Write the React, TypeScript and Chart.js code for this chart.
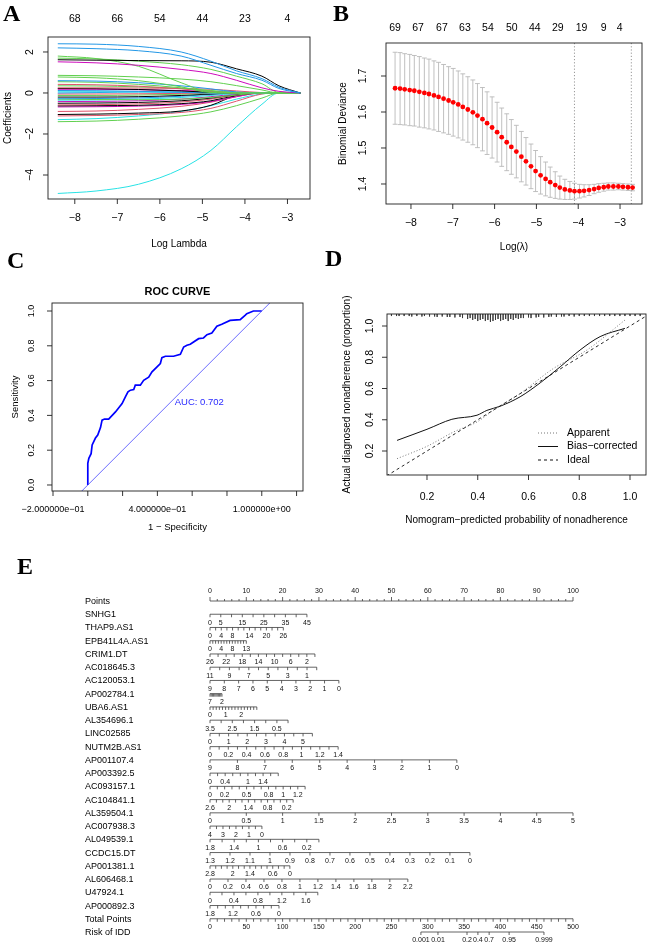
import React, { useEffect, useRef } from "react";
import { Chart, registerables } from "chart.js";
Chart.register(...registerables);

const SANS = '"Liberation Sans", Arial, Helvetica, sans-serif';
const SERIF = '"Liberation Serif", "Times New Roman", serif';
const AXIS = "#1e1e1e";

// ---------------- Panel A : LASSO coefficient paths ----------------
const lassoLogLambda = [-8.4, -7.5, -6.5, -5.5, -4.8, -4.2, -3.6, -3.2, -2.7];
const lassoColors = [
  "#2297E6", "#2297E6", "#000000", "#CD0BBC", "#61D04F", "#61D04F", "#61D04F", "#61D04F",
  "#2297E6", "#61D04F", "#DF536B", "#61D04F", "#DF536B", "#000000", "#CD0BBC", "#2297E6",
  "#28E2E5", "#2297E6", "#DF536B", "#61D04F", "#000000", "#2297E6", "#61D04F", "#28E2E5",
  "#CD0BBC", "#000000", "#DF536B", "#000000", "#CD0BBC", "#DF536B", "#000000", "#DF536B",
  "#28E2E5", "#61D04F", "#28E2E5",
];
const lassoPaths = [
  [2.4, 2.38, 2.27, 2.0, 1.55, 1.08, 0.7, 0.28, 0],
  [2.2, 2.16, 2.06, 1.8, 1.35, 0.95, 0.62, 0.22, 0],
  [1.62, 1.6, 1.58, 1.57, 1.5, 1.18, 0.82, 0.35, 0],
  [1.52, 1.47, 1.35, 1.15, 0.95, 0.62, 0.25, 0.08, 0],
  [1.8, 1.68, 1.3, 0.5, 0.04, 0, 0, 0, 0],
  [1.7, 1.66, 1.55, 1.38, 1.15, 0.82, 0.45, 0.02, 0],
  [0.86, 0.84, 0.78, 0.68, 0.55, 0.36, 0.15, 0, 0],
  [0.78, 0.74, 0.6, 0.3, 0.02, 0, 0, 0, 0],
  [0.6, 0.58, 0.5, 0.35, 0.2, 0.05, 0, 0, 0],
  [0.55, 0.52, 0.42, 0.25, 0.1, 0, 0, 0, 0],
  [0.42, 0.4, 0.33, 0.2, 0.08, 0, 0, 0, 0],
  [0.35, 0.34, 0.3, 0.22, 0.12, 0.03, 0, 0, 0],
  [0.25, 0.25, 0.24, 0.22, 0.18, 0.1, 0.02, 0, 0],
  [0.22, 0.21, 0.17, 0.1, 0.03, 0, 0, 0, 0],
  [0.18, 0.18, 0.16, 0.12, 0.08, 0.03, 0, 0, 0],
  [0.12, 0.11, 0.08, 0.03, 0, 0, 0, 0, 0],
  [0.06, 0.06, 0.05, 0.03, 0.01, 0, 0, 0, 0],
  [0.0, 0.02, 0.05, 0.05, 0.02, 0, 0, 0, 0],
  [-0.05, -0.05, -0.04, -0.02, 0, 0, 0, 0, 0],
  [-0.12, -0.12, -0.1, -0.06, -0.02, 0, 0, 0, 0],
  [-0.2, -0.2, -0.18, -0.12, -0.05, 0, 0, 0, 0],
  [-0.28, -0.27, -0.24, -0.16, -0.07, 0, 0, 0, 0],
  [-0.3, -0.32, -0.33, -0.3, -0.22, -0.1, 0, 0, 0],
  [-0.35, -0.34, -0.3, -0.22, -0.12, -0.03, 0, 0, 0],
  [-0.42, -0.41, -0.38, -0.3, -0.18, -0.05, 0, 0, 0],
  [-0.5, -0.49, -0.46, -0.38, -0.25, -0.08, 0, 0, 0],
  [-0.58, -0.57, -0.53, -0.44, -0.3, -0.1, 0, 0, 0],
  [-0.63, -0.62, -0.6, -0.52, -0.38, -0.12, 0, 0, 0],
  [-0.68, -0.67, -0.64, -0.56, -0.42, -0.18, 0, 0, 0],
  [-0.9, -0.88, -0.8, -0.65, -0.45, -0.18, 0, 0, 0],
  [-1.05, -1.03, -0.98, -0.88, -0.6, -0.12, 0, 0, 0],
  [-1.12, -1.1, -1.05, -0.95, -0.75, -0.4, -0.05, 0, 0],
  [-1.3, -1.25, -1.12, -0.9, -0.62, -0.3, -0.04, 0, 0],
  [-1.4, -1.37, -1.28, -1.12, -0.92, -0.62, -0.25, 0, 0],
  [-4.9, -4.78, -4.45, -3.7, -2.8, -1.65, -0.55, 0, 0],
];
const lassoTicksX = [-8, -7, -6, -5, -4, -3];
const lassoTickLabelsX = ["−8", "−7", "−6", "−5", "−4", "−3"];
const lassoTicksY = [-4, -2, 0, 2];
const lassoTickLabelsY = ["−4", "−2", "0", "2"];
const lassoTopLabels = ["68", "66", "54", "44", "23", "4"];

// ---------------- Panel B : cross-validation ----------------
const cvLogLambda = [
  -8.38, -8.26, -8.15, -8.03, -7.92, -7.8, -7.68, -7.57, -7.45, -7.34, -7.22, -7.1, -6.99, -6.87,
  -6.76, -6.64, -6.52, -6.41, -6.29, -6.18, -6.06, -5.94, -5.83, -5.71, -5.6, -5.48, -5.36, -5.25,
  -5.13, -5.02, -4.9, -4.78, -4.67, -4.55, -4.44, -4.32, -4.2, -4.09, -3.97, -3.86, -3.74, -3.62,
  -3.51, -3.39, -3.28, -3.16, -3.04, -2.93, -2.81, -2.7,
];
const cvMean = [
  1.666, 1.665, 1.663, 1.661, 1.659, 1.656, 1.653, 1.65, 1.646, 1.642, 1.637, 1.632, 1.627, 1.621,
  1.614, 1.607, 1.599, 1.59, 1.58, 1.569, 1.557, 1.544, 1.53, 1.516, 1.503, 1.49, 1.476, 1.463,
  1.449, 1.436, 1.424, 1.414, 1.405, 1.397, 1.39, 1.385, 1.382, 1.38, 1.38, 1.381, 1.383, 1.386,
  1.389, 1.391, 1.393, 1.393, 1.393, 1.392, 1.391, 1.39,
];
const cvSE = [
  0.1, 0.1, 0.099, 0.099, 0.098, 0.098, 0.097, 0.097, 0.096, 0.096, 0.095, 0.094, 0.094, 0.093,
  0.092, 0.091, 0.09, 0.089, 0.088, 0.087, 0.085, 0.083, 0.081, 0.079, 0.076, 0.073, 0.07, 0.066,
  0.062, 0.057, 0.052, 0.047, 0.042, 0.037, 0.032, 0.028, 0.025, 0.022, 0.019, 0.017, 0.015, 0.013,
  0.012, 0.011, 0.01, 0.01, 0.009, 0.009, 0.009, 0.009,
];
const cvTopX = [-8.38, -7.83, -7.26, -6.71, -6.16, -5.59, -5.04, -4.49, -3.92, -3.39, -3.01];
const cvTopLabels = ["69", "67", "67", "63", "54", "50", "44", "29", "19", "9", "4"];
const cvMinLambda = -4.09;
const cv1seLambda = -2.73;
const cvTicksX = [-8, -7, -6, -5, -4, -3];
const cvTickLabelsX = ["−8", "−7", "−6", "−5", "−4", "−3"];
const cvTicksY = [1.4, 1.5, 1.6, 1.7];

// ---------------- Panel C : ROC ----------------
const rocFpr = [
  0, 0, 0.006, 0.019, 0.025, 0.044, 0.057, 0.073, 0.082, 0.096, 0.12, 0.159, 0.197, 0.216, 0.231,
  0.245, 0.264, 0.273, 0.302, 0.321, 0.35, 0.369, 0.398, 0.417, 0.426, 0.446, 0.493, 0.532, 0.551,
  0.57, 0.589, 0.608, 0.637, 0.665, 0.685, 0.713, 0.742, 0.77, 0.818, 0.876, 0.904, 0.914, 0.952, 1,
];
const rocTpr = [
  0, 0.124, 0.153, 0.18, 0.23, 0.27, 0.287, 0.33, 0.373, 0.379, 0.379, 0.42, 0.468, 0.507, 0.535,
  0.545, 0.549, 0.574, 0.574, 0.602, 0.62, 0.65, 0.679, 0.698, 0.732, 0.74, 0.74, 0.751, 0.793,
  0.803, 0.809, 0.822, 0.841, 0.845, 0.864, 0.874, 0.912, 0.924, 0.946, 0.95, 0.975, 0.985, 1, 1,
];
const rocAucText = "AUC: 0.702";
const rocTicksX = [-0.2, 0, 0.2, 0.4, 0.6, 0.8, 1.0, 1.2];
const rocTickLabelsX = ["−2.000000e−01", null, null, "4.000000e−01", null, null, "1.000000e+00", null];
const rocTicksY = [0, 0.2, 0.4, 0.6, 0.8, 1.0];
const rocTickLabelsY = ["0.0", "0.2", "0.4", "0.6", "0.8", "1.0"];

// ---------------- Panel D : calibration ----------------
const calAppX = [0.082, 0.2, 0.305, 0.397, 0.462, 0.567, 0.698, 0.83, 0.98];
const calAppY = [0.151, 0.23, 0.322, 0.386, 0.461, 0.568, 0.728, 0.846, 1.038];
const calBiasX = [0.082, 0.2, 0.298, 0.397, 0.436, 0.489, 0.567, 0.646, 0.725, 0.803, 0.882, 0.98];
const calBiasY = [0.268, 0.339, 0.403, 0.429, 0.46, 0.487, 0.547, 0.636, 0.739, 0.846, 0.932, 0.985];
const rugX = [
  0.06, 0.08, 0.09, 0.11, 0.13, 0.14, 0.16, 0.18, 0.19, 0.21, 0.23, 0.24, 0.26, 0.28, 0.29, 0.31,
  0.33, 0.34, 0.36, 0.37, 0.38, 0.39, 0.4, 0.41, 0.42, 0.43, 0.44, 0.45, 0.46, 0.47, 0.48, 0.49,
  0.5, 0.51, 0.52, 0.53, 0.54, 0.55, 0.56, 0.57, 0.58, 0.6, 0.61, 0.63, 0.64, 0.66, 0.68, 0.69,
  0.71, 0.73, 0.74, 0.76, 0.78, 0.8, 0.82, 0.84, 0.86, 0.88, 0.9, 0.92, 0.94, 0.96, 0.98, 1.0,
  1.02, 1.04,
];
const rugLen = [
  0.013, 0.013, 0.013, 0.013, 0.013, 0.016, 0.013, 0.016, 0.013, 0.016, 0.016, 0.019, 0.016, 0.019,
  0.019, 0.022, 0.019, 0.026, 0.032, 0.026, 0.038, 0.032, 0.045, 0.038, 0.032, 0.045, 0.038, 0.051,
  0.045, 0.038, 0.032, 0.045, 0.038, 0.032, 0.045, 0.032, 0.038, 0.026, 0.032, 0.026, 0.026, 0.022,
  0.026, 0.022, 0.019, 0.022, 0.019, 0.016, 0.019, 0.016, 0.016, 0.013, 0.016, 0.013, 0.013, 0.013,
  0.013, 0.013, 0.013, 0.013, 0.013, 0.013, 0.013, 0.013, 0.013, 0.013,
];
const calTicks = [0.2, 0.4, 0.6, 0.8, 1.0];
const calTickLabels = ["0.2", "0.4", "0.6", "0.8", "1.0"];
const calLegend = ["Apparent", "Bias−corrected", "Ideal"];

// ---------------- Panel E : nomogram ----------------
const nomoNames = [
  "Points", "SNHG1", "THAP9.AS1", "EPB41L4A.AS1", "CRIM1.DT", "AC018645.3", "AC120053.1",
  "AP002784.1", "UBA6.AS1", "AL354696.1", "LINC02585", "NUTM2B.AS1", "AP001107.4", "AP003392.5",
  "AC093157.1", "AC104841.1", "AL359504.1", "AC007938.3", "AL049539.1", "CCDC15.DT", "AP001381.1",
  "AL606468.1", "U47924.1", "AP000892.3", "Total Points", "Risk of IDD",
];
// value range of each axis (first, last) and the points they sit at
const nomoV0 = [0, 0, 0, 0, 26, 11, 9, 7, 0, 3.5, 0, 0, 9, 0, 0, 2.6, 0, 4, 1.8, 1.3, 2.8, 0, 0, 1.8, 0];
const nomoV1 = [100, 45, 26, 13, 0, 0, 0, 2, 3, 0, 5.5, 1.4, 0, 1.8, 1.3, 0, 5, 0, 0, 0, 0, 2.2, 1.8, 0, 500];
const nomoP0 = [0, 0, 0, 0, 0, 0, 0, 0, 0, 0, 0, 0, 0, 0, 0, 0, 0, 0, 0, 0, 0, 0, 0, 0, 0];
const nomoP1 = [100, 26.7, 20.2, 10, 28.9, 29.4, 35.5, 3.3, 12.9, 21.5, 28.2, 35.3, 68, 18.8, 26.2, 22.9, 100, 14.3, 30, 71.6, 22, 54.5, 29.7, 19, 100];
const nomoStep = [2, 5, 2, 1, 2, 1, 1, 0.5, 0.2, 0.5, 0.5, 0.1, 1, 0.2, 0.1, 0.2, 0.5, 0.5, 0.2, 0.1, 0.2, 0.2, 0.2, 0.2, 10];
const nomoLabels: number[][] = [
  [0, 10, 20, 30, 40, 50, 60, 70, 80, 90, 100],
  [0, 5, 15, 25, 35, 45],
  [0, 4, 8, 14, 20, 26],
  [0, 4, 8, 13],
  [26, 22, 18, 14, 10, 6, 2],
  [11, 9, 7, 5, 3, 1],
  [9, 8, 7, 6, 5, 4, 3, 2, 1, 0],
  [7, 2],
  [0, 1, 2],
  [3.5, 2.5, 1.5, 0.5],
  [0, 1, 2, 3, 4, 5],
  [0, 0.2, 0.4, 0.6, 0.8, 1, 1.2, 1.4],
  [9, 8, 7, 6, 5, 4, 3, 2, 1, 0],
  [0, 0.4, 1, 1.4],
  [0, 0.2, 0.5, 0.8, 1, 1.2],
  [2.6, 2, 1.4, 0.8, 0.2],
  [0, 0.5, 1, 1.5, 2, 2.5, 3, 3.5, 4, 4.5, 5],
  [4, 3, 2, 1, 0],
  [1.8, 1.4, 1, 0.6, 0.2],
  [1.3, 1.2, 1.1, 1, 0.9, 0.8, 0.7, 0.6, 0.5, 0.4, 0.3, 0.2, 0.1, 0],
  [2.8, 2, 1.4, 0.6, 0],
  [0, 0.2, 0.4, 0.6, 0.8, 1, 1.2, 1.4, 1.6, 1.8, 2, 2.2],
  [0, 0.4, 0.8, 1.2, 1.6],
  [1.8, 1.2, 0.6, 0],
  [0, 50, 100, 150, 200, 250, 300, 350, 400, 450, 500],
];
const riskLabels = ["0.001", "0.01", "0.2", "0.4", "0.7", "0.95", "0.999"];
const riskPts = [58.1, 62.8, 70.8, 73.8, 76.9, 82.4, 92.0];

// ---------------- helpers ----------------
type RSpec = {
  font: number;
  titleFont?: number;
  tick?: number;
  xTicks: number[];
  xLabels?: (string | null)[];
  xLabelOff: number;
  yTicks: number[];
  yLabels?: (string | null)[];
  yLabelOff: number;
  topX?: number[];
  topLabels?: string[];
  topOff?: number;
  xTitle?: string;
  xTitleOff?: number;
  yTitle?: string;
  yTitleOff?: number;
  title?: string;
  titleOff?: number;
  titleSize?: number;
};

function rAxes(s: RSpec) {
  return {
    id: "rAxes",
    afterDraw(chart: any) {
      const ctx: CanvasRenderingContext2D = chart.ctx;
      const a = chart.chartArea;
      const xs = chart.scales.x;
      const ys = chart.scales.y;
      const tk = s.tick ?? 5;
      ctx.save();
      ctx.strokeStyle = AXIS;
      ctx.fillStyle = "#000";
      ctx.lineWidth = 0.9;
      ctx.strokeRect(a.left, a.top, a.right - a.left, a.bottom - a.top);
      ctx.font = `${s.font}px ${SANS}`;
      ctx.textAlign = "center";
      ctx.textBaseline = "middle";
      s.xTicks.forEach((v, i) => {
        const px = xs.getPixelForValue(v);
        ctx.beginPath();
        ctx.moveTo(px, a.bottom);
        ctx.lineTo(px, a.bottom + tk);
        ctx.stroke();
        const lab = s.xLabels ? s.xLabels[i] : String(v);
        if (lab) ctx.fillText(lab, px, a.bottom + s.xLabelOff);
      });
      s.yTicks.forEach((v, i) => {
        const py = ys.getPixelForValue(v);
        ctx.beginPath();
        ctx.moveTo(a.left, py);
        ctx.lineTo(a.left - tk, py);
        ctx.stroke();
        const lab = s.yLabels ? s.yLabels[i] : String(v);
        if (lab) {
          ctx.save();
          ctx.translate(a.left - s.yLabelOff, py);
          ctx.rotate(-Math.PI / 2);
          ctx.fillText(lab, 0, 0);
          ctx.restore();
        }
      });
      if (s.topX && s.topLabels) {
        s.topX.forEach((v, i) => ctx.fillText(s.topLabels![i], xs.getPixelForValue(v), a.top - (s.topOff ?? 15)));
      }
      ctx.font = `${s.titleFont ?? s.font}px ${SANS}`;
      if (s.xTitle) ctx.fillText(s.xTitle, (a.left + a.right) / 2, a.bottom + (s.xTitleOff ?? 40));
      if (s.yTitle) {
        ctx.save();
        ctx.translate(a.left - (s.yTitleOff ?? 40), (a.top + a.bottom) / 2);
        ctx.rotate(-Math.PI / 2);
        ctx.fillText(s.yTitle, 0, 0);
        ctx.restore();
      }
      if (s.title) {
        ctx.font = `bold ${s.titleSize ?? 11}px ${SANS}`;
        ctx.fillText(s.title, (a.left + a.right) / 2, a.top - (s.titleOff ?? 10));
      }
      ctx.restore();
    },
  };
}

function baseOptions(pad: any, xr: number[], yr: number[], yReverse = false) {
  return {
    responsive: false,
    animation: false,
    events: [],
    layout: { padding: pad },
    plugins: { legend: { display: false }, tooltip: { enabled: false } },
    scales: {
      x: { type: "linear", display: false, min: xr[0], max: xr[1] },
      y: { type: "linear", display: false, min: yr[0], max: yr[1], reverse: yReverse },
    },
  };
}

function Panel({ x, y, w, h, make }: { x: number; y: number; w: number; h: number; make: () => any }) {
  const ref = useRef<HTMLCanvasElement>(null);
  useEffect(() => {
    const chart = new Chart(ref.current as HTMLCanvasElement, make());
    return () => chart.destroy();
  }, []);
  return (
    <canvas
      ref={ref}
      width={w}
      height={h}
      style={{ position: "absolute", left: x, top: y, width: w, height: h }}
    />
  );
}

// ---------------- configs ----------------
function makeA() {
  return {
    type: "scatter",
    data: {
      datasets: lassoPaths.map((vals, i) => ({
        data: vals.map((v, j) => ({ x: lassoLogLambda[j], y: v })),
        showLine: true,
        borderColor: lassoColors[i],
        borderWidth: 1,
        pointRadius: 0,
        cubicInterpolationMode: "monotone",
      })),
    },
    options: baseOptions({ left: 48, top: 37, right: 10, bottom: 56 }, [-8.63, -2.47], [-5.17, 2.73]),
    plugins: [
      rAxes({
        font: 10.5,
        titleFont: 10,
        xTicks: lassoTicksX,
        xLabels: lassoTickLabelsX,
        xLabelOff: 19,
        yTicks: lassoTicksY,
        yLabels: lassoTickLabelsY,
        yLabelOff: 18,
        topX: lassoTicksX,
        topLabels: lassoTopLabels,
        topOff: 18,
        xTitle: "Log Lambda",
        xTitleOff: 45,
        yTitle: "Coefficients",
        yTitleOff: 40,
      }),
    ],
  };
}

const cvBars = {
  id: "cvBars",
  beforeDatasetsDraw(chart: any) {
    const ctx: CanvasRenderingContext2D = chart.ctx;
    const xs = chart.scales.x;
    const ys = chart.scales.y;
    const a = chart.chartArea;
    ctx.save();
    ctx.strokeStyle = "#b9b9b9";
    ctx.lineWidth = 0.9;
    cvLogLambda.forEach((l, i) => {
      const px = xs.getPixelForValue(l);
      const hi = ys.getPixelForValue(cvMean[i] + cvSE[i]);
      const lo = ys.getPixelForValue(cvMean[i] - cvSE[i]);
      ctx.beginPath();
      ctx.moveTo(px, hi);
      ctx.lineTo(px, lo);
      ctx.moveTo(px - 2.4, hi);
      ctx.lineTo(px + 2.4, hi);
      ctx.moveTo(px - 2.4, lo);
      ctx.lineTo(px + 2.4, lo);
      ctx.stroke();
    });
    ctx.setLineDash([1.2, 2]);
    ctx.strokeStyle = "#8c8c8c";
    [cvMinLambda, cv1seLambda].forEach((l) => {
      const px = xs.getPixelForValue(l);
      ctx.beginPath();
      ctx.moveTo(px, a.top);
      ctx.lineTo(px, a.bottom);
      ctx.stroke();
    });
    ctx.restore();
  },
};

function makeB() {
  return {
    type: "scatter",
    data: {
      datasets: [
        {
          data: cvLogLambda.map((l, i) => ({ x: l, y: cvMean[i] })),
          pointRadius: 2.4,
          pointBackgroundColor: "#ff0000",
          pointBorderWidth: 0,
        },
      ],
    },
    options: baseOptions({ left: 66, top: 43, right: 7, bottom: 51 }, [-8.597, -2.475], [1.3444, 1.7917]),
    plugins: [
      cvBars,
      rAxes({
        font: 10.5,
        titleFont: 10,
        xTicks: cvTicksX,
        xLabels: cvTickLabelsX,
        xLabelOff: 19,
        yTicks: cvTicksY,
        yLabelOff: 23,
        topX: cvTopX,
        topLabels: cvTopLabels,
        topOff: 15,
        xTitle: "Log(λ)",
        xTitleOff: 43,
        yTitle: "Binomial Deviance",
        yTitleOff: 43,
      }),
    ],
  };
}

const rocText = {
  id: "rocText",
  afterDatasetsDraw(chart: any) {
    const ctx: CanvasRenderingContext2D = chart.ctx;
    ctx.save();
    ctx.font = `9.5px ${SANS}`;
    ctx.fillStyle = "#2a2aff";
    ctx.textAlign = "left";
    ctx.textBaseline = "middle";
    ctx.fillText(rocAucText, chart.scales.x.getPixelForValue(0.5), chart.scales.y.getPixelForValue(0.477));
    ctx.restore();
  },
};

function makeC() {
  return {
    type: "scatter",
    data: {
      datasets: [
        {
          data: [
            { x: -0.3, y: -0.3 },
            { x: 1.4, y: 1.4 },
          ],
          showLine: true,
          borderColor: "#4545ff",
          borderWidth: 0.8,
          pointRadius: 0,
        },
        {
          data: rocFpr.map((f, i) => ({ x: f, y: rocTpr[i] })),
          showLine: true,
          borderColor: "#0000ff",
          borderWidth: 1.7,
          pointRadius: 0,
        },
      ],
    },
    options: baseOptions({ left: 52, top: 53, right: 17, bottom: 49 }, [-0.2058, 1.237], [-0.0345, 1.046]),
    plugins: [
      rocText,
      rAxes({
        font: 9,
        titleFont: 9.5,
        xTicks: rocTicksX,
        xLabels: rocTickLabelsX,
        xLabelOff: 19,
        yTicks: rocTicksY,
        yLabels: rocTickLabelsY,
        yLabelOff: 20,
        xTitle: "1 − Specificity",
        xTitleOff: 36,
        yTitle: "Sensitivity",
        yTitleOff: 37,
        title: "ROC CURVE",
        titleOff: 11,
        titleSize: 11,
      }),
    ],
  };
}

const calLegendPlugin = {
  id: "calLegend",
  afterDraw(chart: any) {
    const ctx: CanvasRenderingContext2D = chart.ctx;
    const a = chart.chartArea;
    const styles = [
      { dash: [1, 2], color: "#777", w: 1 },
      { dash: [], color: "#111", w: 1 },
      { dash: [3, 3], color: "#111", w: 1 },
    ];
    ctx.save();
    ctx.font = `10.5px ${SANS}`;
    ctx.fillStyle = "#000";
    ctx.textAlign = "left";
    ctx.textBaseline = "middle";
    calLegend.forEach((t, i) => {
      const y = a.top + 119 + i * 13.5;
      ctx.setLineDash(styles[i].dash);
      ctx.strokeStyle = styles[i].color;
      ctx.lineWidth = styles[i].w;
      ctx.beginPath();
      ctx.moveTo(a.left + 151, y);
      ctx.lineTo(a.left + 171, y);
      ctx.stroke();
      ctx.fillText(t, a.left + 180, y);
    });
    ctx.restore();
  },
};

function makeD() {
  const rugTop = 1.0768;
  const rugData: any[] = [];
  rugX.forEach((x, i) => {
    rugData.push({ x, y: rugTop }, { x, y: rugTop - rugLen[i] }, { x, y: NaN });
  });
  return {
    type: "scatter",
    data: {
      datasets: [
        {
          data: [
            { x: 0, y: 0 },
            { x: 1.2, y: 1.2 },
          ],
          showLine: true,
          borderColor: "#111",
          borderWidth: 0.9,
          borderDash: [3, 3],
          pointRadius: 0,
        },
        {
          data: calAppX.map((x, i) => ({ x, y: calAppY[i] })),
          showLine: true,
          borderColor: "#777",
          borderWidth: 1,
          borderDash: [1, 2],
          pointRadius: 0,
          cubicInterpolationMode: "monotone",
        },
        {
          data: calBiasX.map((x, i) => ({ x, y: calBiasY[i] })),
          showLine: true,
          borderColor: "#111",
          borderWidth: 1,
          pointRadius: 0,
          cubicInterpolationMode: "monotone",
        },
        {
          data: rugData,
          showLine: true,
          spanGaps: false,
          borderColor: "#333",
          borderWidth: 0.7,
          pointRadius: 0,
        },
      ],
    },
    options: baseOptions({ left: 67, top: 64, right: 3, bottom: 65 }, [0.0424, 1.063], [0.0464, 1.0768]),
    plugins: [
      calLegendPlugin,
      rAxes({
        font: 10.5,
        titleFont: 10,
        xTicks: calTicks,
        xLabels: calTickLabels,
        xLabelOff: 22,
        yTicks: calTicks,
        yLabels: calTickLabels,
        yLabelOff: 17,
        xTitle: "Nomogram−predicted probability of nonadherence",
        xTitleOff: 45,
        yTitle: "Actual diagnosed nonadherence (proportion)",
        yTitleOff: 40,
      }),
    ],
  };
}

function fmtNum(v: number) {
  return String(parseFloat(v.toFixed(3)));
}

const nomoPlugin = {
  id: "nomo",
  afterDraw(chart: any) {
    const ctx: CanvasRenderingContext2D = chart.ctx;
    const xs = chart.scales.x;
    const ys = chart.scales.y;
    ctx.save();
    ctx.textBaseline = "middle";
    nomoNames.forEach((name, i) => {
      ctx.font = `9px ${SANS}`;
      ctx.fillStyle = "#000";
      ctx.textAlign = "left";
      ctx.fillText(name, 85, ys.getPixelForValue(i) + 0.5);
    });
    ctx.strokeStyle = "#3c3c3c";
    ctx.lineWidth = 0.8;
    ctx.font = `7px ${SANS}`;
    ctx.textAlign = "center";
    ctx.fillStyle = "#111";
    nomoV0.forEach((v0, i) => {
      const v1 = nomoV1[i];
      const toPts = (v: number) => nomoP0[i] + ((v - v0) / (v1 - v0)) * (nomoP1[i] - nomoP0[i]);
      const y = ys.getPixelForValue(i);
      const up = i === 0;
      ctx.beginPath();
      ctx.moveTo(xs.getPixelForValue(toPts(v0)), y);
      ctx.lineTo(xs.getPixelForValue(toPts(v1)), y);
      const n = Math.round(Math.abs(v1 - v0) / nomoStep[i]);
      const sgn = v1 > v0 ? 1 : -1;
      for (let k = 0; k <= n; k++) {
        const v = v0 + sgn * k * nomoStep[i];
        const px = xs.getPixelForValue(toPts(v));
        let len = 3;
        if (up) len = Math.abs(v / 10 - Math.round(v / 10)) < 1e-6 ? -4 : -2;
        ctx.moveTo(px, y);
        ctx.lineTo(px, y + len);
      }
      ctx.stroke();
      nomoLabels[i].forEach((lv) => {
        const px = xs.getPixelForValue(toPts(lv));
        ctx.fillText(fmtNum(lv), px, up ? y - 10 : y + 8.5);
      });
    });
    // risk axis
    const yr = ys.getPixelForValue(nomoNames.length - 1);
    ctx.beginPath();
    ctx.moveTo(xs.getPixelForValue(riskPts[0]), yr);
    ctx.lineTo(xs.getPixelForValue(riskPts[riskPts.length - 1]), yr);
    riskPts.forEach((p) => {
      const px = xs.getPixelForValue(p);
      ctx.moveTo(px, yr);
      ctx.lineTo(px, yr + 3);
    });
    ctx.stroke();
    riskLabels.forEach((t, i) => ctx.fillText(t, xs.getPixelForValue(riskPts[i]), yr + 8.5));
    ctx.restore();
  },
};

function makeE() {
  return {
    type: "scatter",
    data: { datasets: [{ data: [] as any[] }] },
    options: baseOptions({ left: 210, top: 46, right: 76, bottom: 13 }, [0, 100], [0, 25], true),
    plugins: [nomoPlugin],
  };
}

function Letter({ t, x, y }: { t: string; x: number; y: number }) {
  return (
    <div
      style={{
        position: "absolute",
        left: x,
        top: y,
        font: `bold 24px ${SERIF}`,
        lineHeight: "24px",
        color: "#000",
      }}
    >
      {t}
    </div>
  );
}

export default function App() {
  return (
    <div style={{ position: "absolute", left: 0, top: 0, width: 649, height: 945, background: "#fff", overflow: "hidden" }}>
      <Panel x={0} y={0} w={320} h={255} make={makeA} />
      <Panel x={320} y={0} w={329} h={255} make={makeB} />
      <Panel x={0} y={250} w={320} h={290} make={makeC} />
      <Panel x={320} y={250} w={329} h={290} make={makeD} />
      <Panel x={0} y={555} w={649} h={390} make={makeE} />
      <Letter t="A" x={3} y={1} />
      <Letter t="B" x={333} y={1} />
      <Letter t="C" x={7} y={248} />
      <Letter t="D" x={325} y={246} />
      <Letter t="E" x={17} y={554} />
    </div>
  );
}
